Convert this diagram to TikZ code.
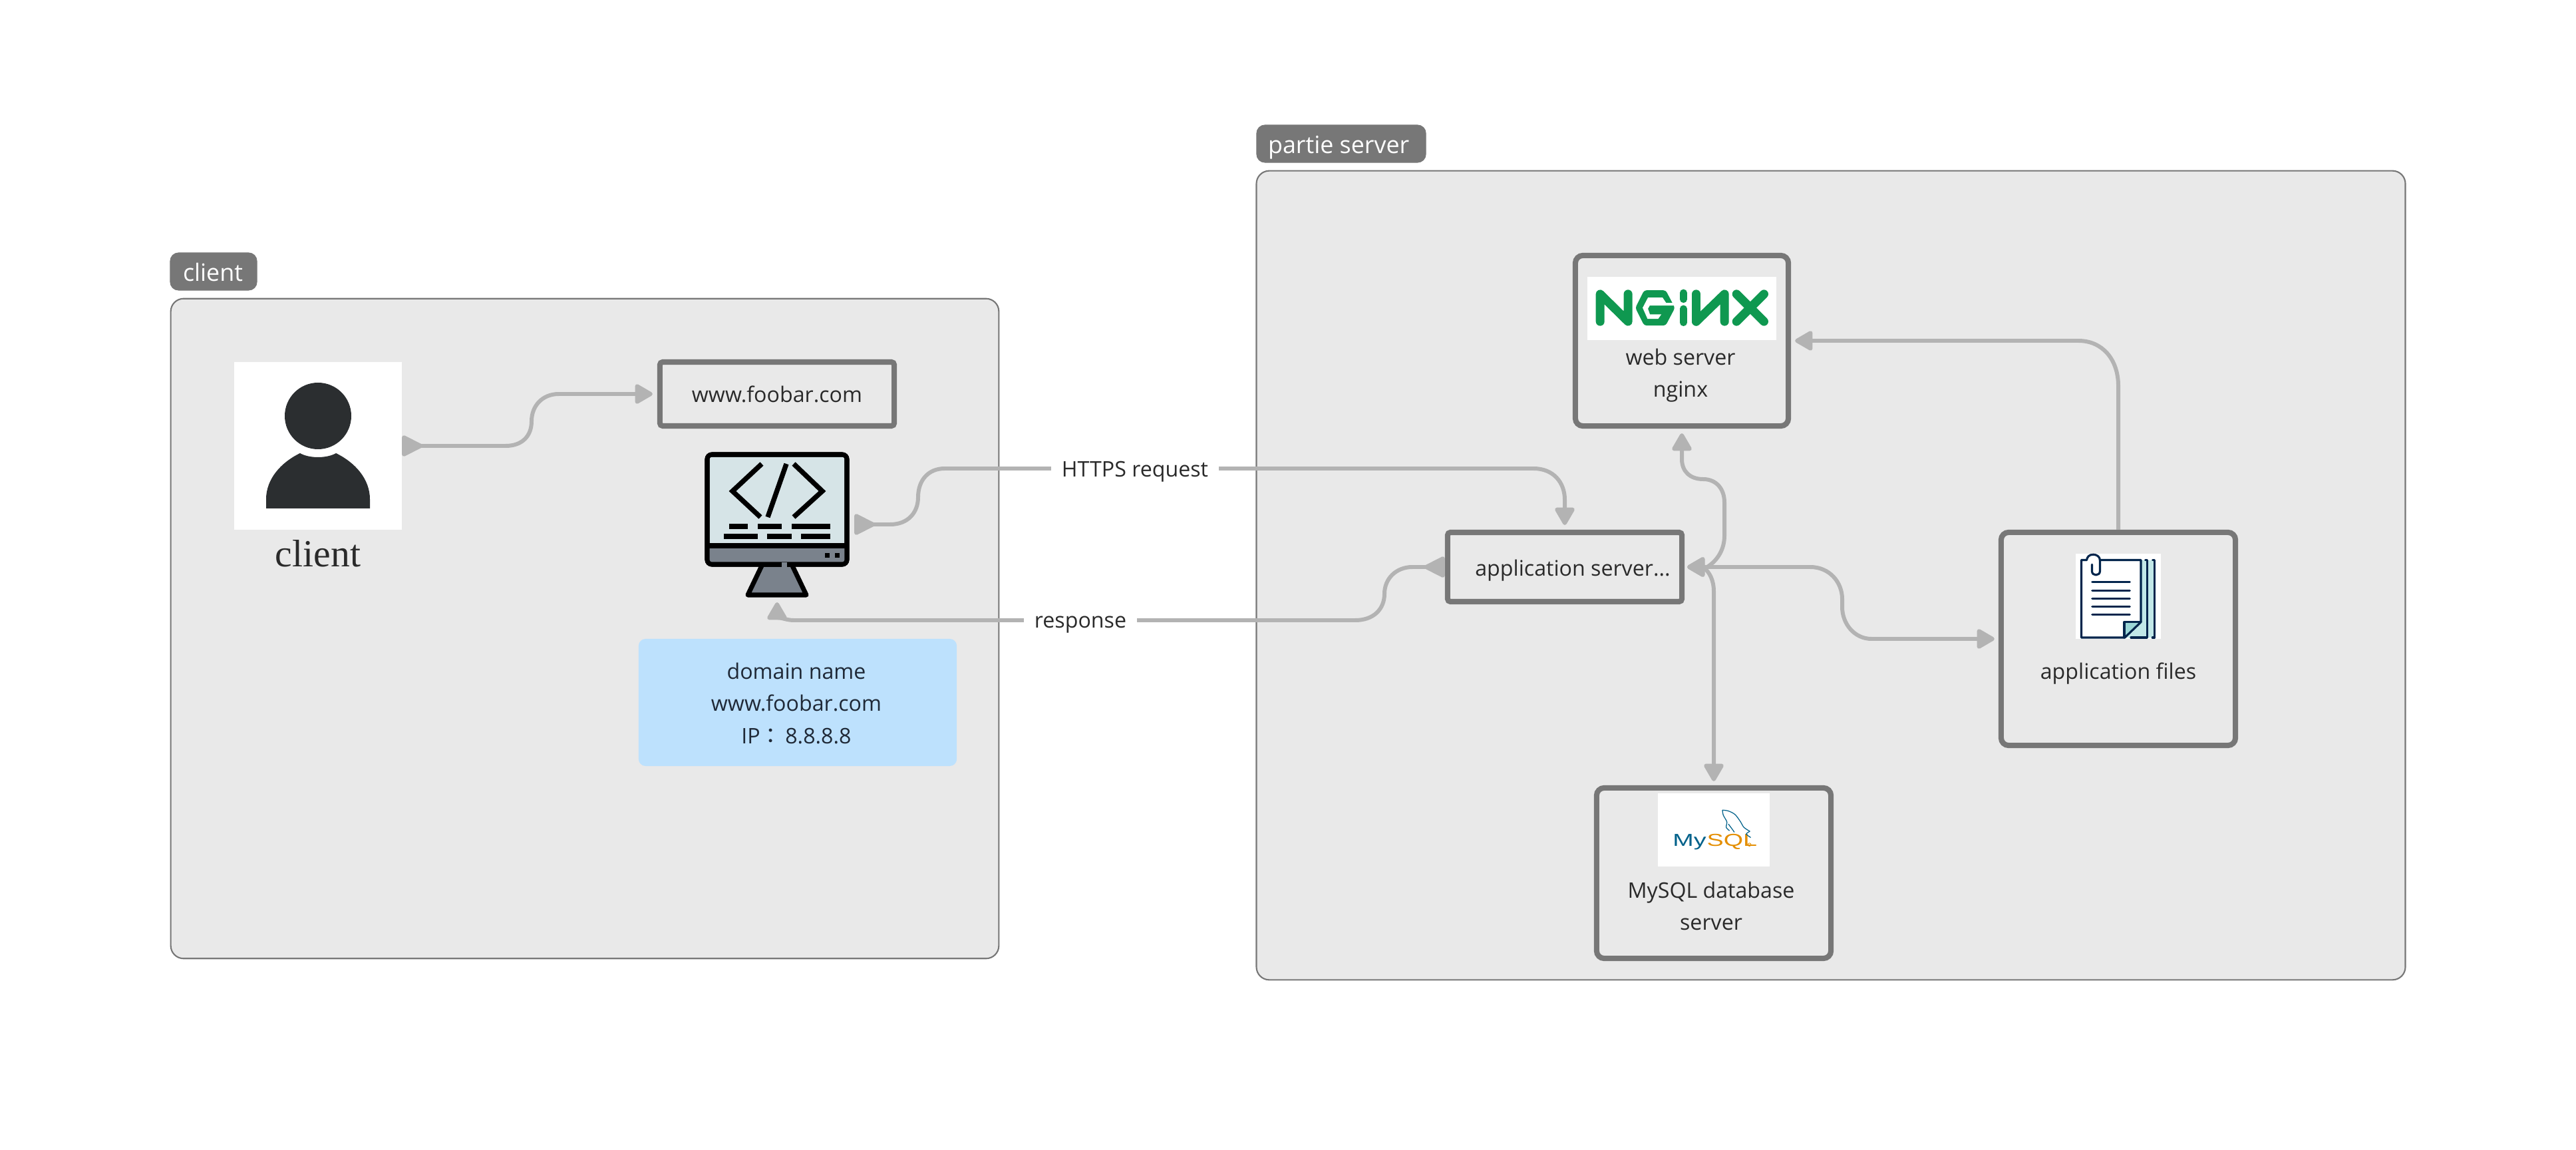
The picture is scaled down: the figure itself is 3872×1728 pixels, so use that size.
\documentclass[tikz,border=0pt]{standalone}
\usepackage{fontspec}
\setmainfont{Open Sans}
\newfontfamily\serifface{Liberation Serif}
\newfontfamily\logoface{Liberation Sans}[Scale=1]
\newfontfamily\cjkface{Noto Sans CJK JP}
\usetikzlibrary{arrows.meta,calc}
\definecolor{groupfill}{HTML}{E9E9E9}
\definecolor{groupline}{HTML}{777777}
\definecolor{conncol}{HTML}{B3B3B3}
\definecolor{textcol}{HTML}{2A2A2A}
\definecolor{notefill}{HTML}{BDE1FD}
\definecolor{notetext}{HTML}{1F2937}
\definecolor{persondark}{HTML}{2B2E30}
\definecolor{screencol}{HTML}{D6E4E7}
\definecolor{basecol}{HTML}{7A828C}
\definecolor{nginxgreen}{HTML}{0F9850}
\definecolor{navy}{HTML}{03254C}
\definecolor{pagelight}{HTML}{C2E8E8}
\definecolor{pagefold}{HTML}{9AD6D6}
\definecolor{sqlblue}{HTML}{00618A}
\definecolor{sqlorange}{HTML}{E48E00}
\tikzset{
  bodyfont/.style={font=\fontsize{9.15}{13.66}\selectfont},
  groupbox/.style={draw=groupline,fill=groupfill,line width=0.6pt,rounded corners=5.5pt,inner sep=0pt,outer sep=0pt},
  grouptag/.style={draw=groupline,fill=groupline,line width=0.3pt,rounded corners=3.5pt,inner sep=0pt,outer sep=0pt},
  tagtext/.style={inner sep=0pt,outer sep=0pt,anchor=base west,text=white,font=\fontsize{10.2}{13}\selectfont},
  comp/.style={draw=groupline,line width=2.3pt,inner sep=0pt,text=textcol,bodyfont,align=center},
  whitebox/.style={fill=white,inner sep=0pt,outer sep=0pt},
  hidden/.style={inner sep=0pt,outer sep=0pt},
  plain/.style={inner sep=0pt,outer sep=0pt,text=textcol,bodyfont,align=center},
  edgelabel/.style={fill=white,inner xsep=4.5pt,inner ysep=3pt,text=textcol,bodyfont},
  conn/.style={draw=conncol,line width=1.7pt},
  headtip/.tip={Triangle[length=8.4pt,width=9.2pt,round]},
  backtip/.tip={Triangle[reversed,length=10pt,width=9.6pt,round]},
  monline/.style={draw=black,line width=2pt},
  codeline/.style={draw=black,line width=2.1pt},
  nx/.style={draw=nginxgreen,line width=3.7pt,line cap=round,line join=round},
  paper/.style={draw=navy,line width=0.9pt,line cap=round,line join=round}
}
\begin{document}
\begin{tikzpicture}[x=0.01cm,y=-0.01cm]
\useasboundingbox (0,0) rectangle (3872,1728);

% groups
\node[groupbox,minimum width=12.44cm,minimum height=9.91cm] (clientgroup) at (879,944.5) {};
\node[groupbox,minimum width=17.26cm,minimum height=12.15cm] (servergroup) at (2752,864.5) {};
\node[grouptag,minimum width=1.30cm,minimum height=0.56cm] (clienttag) at (321,408) {};
\node[tagtext] (clienttagtext) at (275,423) {client};
\node[grouptag,minimum width=2.54cm,minimum height=0.56cm] (servertag) at (2016,216) {};
\node[tagtext] (servertagtext) at (1906,231) {partie server};

% user
\node[whitebox,minimum width=2.52cm,minimum height=2.52cm] (user) at (478,670) {};
\fill[persondark] (478,625) ellipse [x radius=50,y radius=50];
\fill[persondark] (400,764) -- (400,750) .. controls (400,720) and (422,695) .. (451,681)
  .. controls (465,689) and (491,689) .. (505,681)
  .. controls (534,695) and (556,720) .. (556,750) -- (556,764) -- cycle;
\node[inner sep=0pt,outer sep=0pt,text=textcol,font=\serifface\fontsize{16.4}{18}\selectfont,anchor=base] (clientname) at (478,852) {client};

% url box
\node[comp,rounded corners=1.2pt,minimum width=3.52cm,minimum height=0.96cm] (url) at (1168,592) {www.foobar.com};

% monitor
\node[hidden,minimum width=2.18cm,minimum height=2.18cm] (mon) at (1168,788) {};
\fill[basecol,monline,line join=round] (1146,848) -- (1190,848) -- (1212,894) -- (1124,894) -- cycle;
\fill[screencol,monline,rounded corners=2pt] (1063,683) rectangle (1273,848);
\fill[basecol] (1065,823) -- (1271,823) -- (1271,840) -- (1268,846) -- (1068,846) -- (1065,840) -- cycle;
\draw[monline,rounded corners=2pt] (1063,683) rectangle (1273,848);
\draw[monline] (1063,820) -- (1273,820);
\fill[basecol] (1175,845) rectangle (1183,853);
\draw[codeline] (1145,697) -- (1101,738) -- (1143,777);
\draw[codeline] (1182,697) -- (1154,777);
\draw[codeline] (1193,697) -- (1236,738) -- (1193,777);
\foreach \a/\b in {1096/1124,1139/1175,1190/1248} \draw[codeline] (\a,791) -- (\b,791);
\foreach \a/\b in {1088/1139,1153/1190,1204/1248} \draw[codeline] (\a,806) -- (\b,806);
\fill[black] (1240,831) rectangle (1247,838);
\fill[black] (1255,831) rectangle (1262,838);

% note
\node[fill=notefill,rounded corners=3pt,inner sep=0pt,outer sep=0pt,minimum width=4.78cm,minimum height=1.91cm] (note) at (1199,1055.5) {};
\node[plain,text=notetext] (notetxt) at (1197,1057) {domain name\\www.foobar.com\\IP{\cjkface ：}\,8.8.8.8};

% server side boxes
\node[comp,rounded corners=3.2pt,minimum width=3.2cm,minimum height=2.56cm] (web) at (2528,512) {};
\node[whitebox,minimum width=2.84cm,minimum height=0.95cm] (nginxlogo) at (2528,463.5) {};
\node[plain] (webtxt) at (2526,564) {web server\\nginx};
\node[comp,rounded corners=1.2pt,minimum width=3.52cm,minimum height=1.04cm] (app) at (2352,852) {};
\node[plain] (apptxt) at (2364,857) {application server...};
\node[comp,rounded corners=3.2pt,minimum width=3.52cm,minimum height=2.56cm] (db) at (2576,1312) {};
\node[whitebox,minimum width=1.68cm,minimum height=1.10cm] (mysqllogo) at (2576,1247) {};
\node[plain] (dbtxt) at (2572,1361) {MySQL database\\server};
\node[comp,rounded corners=3.2pt,minimum width=3.52cm,minimum height=3.20cm] (files) at (3184,960) {};
\node[whitebox,minimum width=1.28cm,minimum height=1.28cm] (filesicon) at (3184,896) {};
\node[plain] (filestxt) at (3184,1012) {application files};

% nginx logo (zoom coordinates)
\begin{scope}[shift={(2300,360)},x=0.003333cm,y=-0.003333cm]
\draw[nx] (316,370) -- (316,246) -- (442,370) -- (442,246);
\fill[nginxgreen,rounded corners=1pt] (475,308) -- (515,229) -- (612,229) -- (654,308) -- (612,388) -- (515,388) -- cycle;
\fill[white] (508,308) -- (532,262) -- (598,262) -- (614,286) -- (662,286) -- (662,298) -- (540,298) -- (532,312) -- (541,338) -- (592,338) -- (578,358) -- (530,358) -- cycle;
\draw[nx,line width=3pt] (692,240) -- (692,270);
\draw[nx,line width=3pt] (692,312) -- (692,375);
\draw[nx] (750,370) -- (750,246) ;
\draw[nx] (750,370) -- (878,246) -- (878,370);
\draw[nx] (932,246) -- (1056,370);
\draw[nx] (1056,246) -- (932,370);
\end{scope}

% mysql logo
\begin{scope}[shift={(2350,1160)},x=0.003333cm,y=-0.003333cm]
\node[hidden,anchor=base east,text=sqlblue,font=\logoface\fontsize{7.4}{8}\selectfont,xscale=1.45,transform shape] (sqlmy) at (645,335) {My};
\node[hidden,anchor=base west,text=sqlorange,font=\logoface\fontsize{7.4}{8}\selectfont,xscale=1.45,transform shape] (sqlsq) at (648,335) {SQL};
\draw[sqlorange,line width=0.25pt] (840,328) circle [radius=7];
\draw[sqlblue,line width=0.35pt] plot[smooth] coordinates {(718,172) (745,176) (775,192) (800,225) (815,250) (842,268)};
\draw[sqlblue,line width=0.35pt] plot[smooth] coordinates {(842,268) (826,280) (846,296)};
\draw[sqlblue,line width=0.35pt] plot[smooth] coordinates {(718,172) (722,195) (738,225) (735,250) (750,265)};
\draw[sqlblue,line width=0.35pt] plot[smooth] coordinates {(745,235) (760,255) (772,272)};
\end{scope}

% files icon
\begin{scope}[shift={(3000,780)},x=0.003333cm,y=-0.003333cm]
\fill[pagelight] (655,185) -- (715,185) -- (715,535) -- (590,535) -- (655,465) -- cycle;
\fill[white] (386,185) rectangle (655,465);
\draw[paper] (610,535) -- (683,535) -- (683,185) -- (675,185);
\draw[paper] (708,185) -- (717,185) -- (717,535) -- (707,535);
\fill[pagefold] (580,465) -- (655,465) -- (582,535) -- cycle;
\draw[paper] (410,185) -- (386,185) -- (386,535) -- (582,535) -- (655,465) -- (655,185) -- (470,185);
\draw[paper] (580,535) -- (580,465) -- (655,465);
\foreach \yy in {285,322,358,395,432} \draw[paper] (435,\yy) -- (605,\yy);
\draw[paper] (470,185) .. controls (470,170) and (455,160) .. (440,160)
  .. controls (420,160) and (412,172) .. (410,185);
\draw[paper] (470,185) -- (470,235) .. controls (470,258) and (434,258) .. (434,235) -- (434,205);
\end{scope}

% connectors
\draw[conn,{backtip}-{headtip}] (user.east) -- (760,670) .. controls (785,670) and (799,655) .. (799,633)
  .. controls (799,610) and (815,592) .. (840,592) -- ([xshift=-0.07cm]url.west);
\draw[conn,{backtip}-{headtip}] ([xshift=0.07cm]mon.east) -- (1338,788) .. controls (1365,788) and (1380,770) .. (1380,747)
  .. controls (1380,722) and (1395,704) .. (1420,704) -- (2305,704)
  .. controls (2335,704) and (2352,725) .. (2352,751) -- ([yshift=0.07cm]app.north);
\draw[conn,{backtip}-{headtip}] (app.west) -- (2123,852) .. controls (2098,852) and (2081,870) .. (2081,892)
  .. controls (2081,915) and (2065,932) .. (2037,932) -- (1193,932)
  .. controls (1180,932) and (1168,925) .. ([yshift=-0.08cm]mon.south);
\draw[conn,{headtip}-{headtip}] ([yshift=-0.07cm]web.south) -- (2528,690) .. controls (2528,708) and (2540,720) .. (2560,720)
  .. controls (2580,720) and (2592,735) .. (2592,755) -- (2592,805)
  .. controls (2592,825) and (2582,842) .. (2566,852) -- ([xshift=0.04cm]app.east);
\draw[conn,{headtip}-{headtip}] ([xshift=0.04cm]app.east) -- (2560,852) .. controls (2570,860) and (2576,872) .. (2576,889) -- ([yshift=0.06cm]db.north);
\draw[conn,{headtip}-{headtip}] ([xshift=0.04cm]app.east) -- (2721,852) .. controls (2750,852) and (2769,875) .. (2769,900) -- (2769,912)
  .. controls (2769,938) and (2788,960) .. (2813,960) -- ([xshift=-0.06cm]files.west);
\draw[conn,-{headtip}] (files.north) -- (3184,580) .. controls (3184,540) and (3160,512) .. (3124,512) -- ([xshift=0.06cm]web.east);

% edge labels
\node[edgelabel] (httpslabel) at (1706,709) {HTTPS request};
\node[edgelabel] (resplabel) at (1624,939) {response};
\end{tikzpicture}
\end{document}
